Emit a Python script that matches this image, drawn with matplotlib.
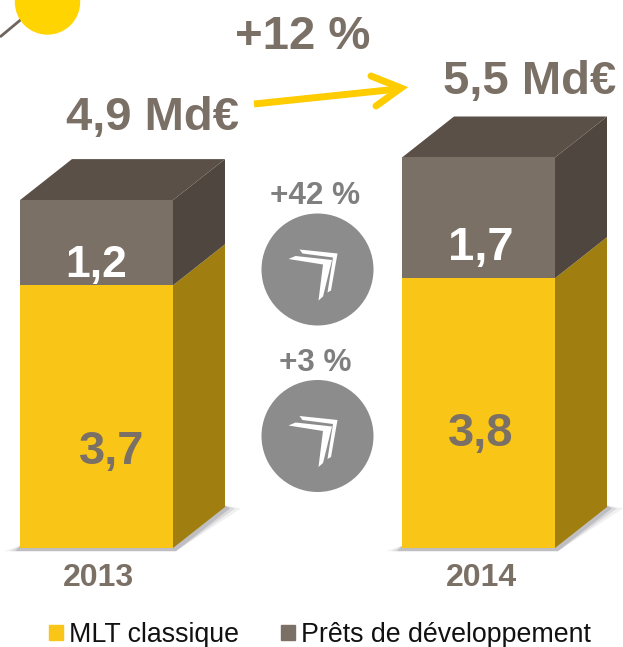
import matplotlib.pyplot as plt
from matplotlib.patches import Circle, Patch, Polygon

plt.rcParams['font.family'] = ['Liberation Sans', 'DejaVu Sans']

years = ["2013", "2014"]
mlt = [3.7, 3.8]
prets = [1.2, 1.7]
totals = ["4,9 Md€", "5,5 Md€"]
growth_total = "+12 %"
growth_labels = ["+42 %", "+3 %"]
series_names = ["MLT classique", "Prêts de développement"]

YELLOW = "#F9C617"
YELLOW_SIDE = "#A07F10"
GREY = "#7B7065"
GREY_TOP = "#5A5047"
GREY_SIDE = "#4E463F"
W, H = 623, 647
BASE = 548      # pixel row of value 0
SCALE = 71.0    # pixels per Md€
DX, DY = 52, 41 # depth of the fake 3d

fig = plt.figure(figsize=(W / 100, H / 100), dpi=100)
# ax is in pixels, ax_v has the same x but y in Md€
ax_v = fig.add_axes([0, 0, 1, 1], zorder=0)
ax_v.set_xlim(0, W)
ax_v.set_ylim((BASE - H) / SCALE, BASE / SCALE)
ax_v.axis("off")
ax = fig.add_axes([0, 0, 1, 1], zorder=1)
ax.set_xlim(0, W)
ax.set_ylim(H, 0)
ax.axis("off")

bar_left = [20, 402]
bar_w = 153
dy = DY / SCALE

# sun + line top left
ax.plot([0, 24], [37, 17], color="#6F655C", lw=2, solid_capstyle="butt", zorder=1)
ax.add_patch(Circle((47.5, 2), 32, color="#FFD400", zorder=2))

for i in range(2):
    x0 = bar_left[i]
    x1 = x0 + bar_w
    top1 = mlt[i]
    top2 = mlt[i] + prets[i]
    # soft shadow under the box
    for grow, a in ((16, 0.10), (10, 0.16), (5, 0.25)):
        ax_v.add_patch(Polygon([(x0 - grow, -0.045), (x1 + 3, -0.045), (x1 + DX + grow, dy - 0.02),
                                (x1 + DX, dy + 0.02), (x1, 0.03), (x0, 0.03)],
                               color="#6E6E78", alpha=a, lw=0, zorder=1))
    ax_v.bar(x0, top1, width=bar_w, align="edge", color=YELLOW, zorder=3)
    ax_v.bar(x0, prets[i], width=bar_w, bottom=top1, align="edge", color=GREY, zorder=3)
    ax_v.add_patch(Polygon([(x1, 0), (x1 + DX, dy), (x1 + DX, top1 + dy), (x1, top1)],
                           color=YELLOW_SIDE, lw=0, zorder=2))
    ax_v.add_patch(Polygon([(x1, top1), (x1 + DX, top1 + dy), (x1 + DX, top2 + dy), (x1, top2)],
                           color=GREY_SIDE, lw=0, zorder=2))
    ax_v.add_patch(Polygon([(x0, top2), (x0 + DX, top2 + dy), (x1 + DX, top2 + dy), (x1, top2)],
                           color=GREY_TOP, lw=0, zorder=2))

txt = dict(fontweight="bold", ha="center", va="center", zorder=5)
ax.text(98, 578, years[0], color=GREY, fontsize=23, **txt)
ax.text(481, 578, years[1], color=GREY, fontsize=23, **txt)
ax.text(152, 118, totals[0], color=GREY, fontsize=34, **txt)
ax.text(530, 82, totals[1], color=GREY, fontsize=34, **txt)
ax.text(303, 37, growth_total, color=GREY, fontsize=34, **txt)

fmt = lambda v: f"{v:.1f}".replace(".", ",")
ax.text(112, 452, fmt(mlt[0]), color=GREY, fontsize=34, **txt)
ax.text(481, 434, fmt(mlt[1]), color=GREY, fontsize=34, **txt)
ax.text(96, 265, fmt(prets[0]), color="white", fontsize=32, **txt)
ax.text(481, 248, fmt(prets[1]), color="white", fontsize=34, **txt)

# total growth arrow
ax.plot([254, 398], [104, 89], color="#FFCC00", lw=5, solid_capstyle="butt", zorder=4)
ax.plot([371, 401, 376], [76, 88, 106], color="#FFCC00", lw=5, solid_capstyle="round",
        solid_joinstyle="miter", zorder=4)

# growth badges
back = [(-18, -20), (20, -16), (13.5, 21), (10, 23), (15.5, -12), (-15, -16)]
front = [(-29, -10.5), (-22, -13.5), (14.5, -9.5), (5.5, 27), (1, 31), (5.5, -5)]
for cy, cy_txt, lab in zip((269.5, 436), (196, 363), growth_labels):
    ax.add_patch(Circle((317.5, cy), 56, color="#8C8C8C", lw=0, zorder=3))
    for shape in (back, front):
        ax.add_patch(Polygon([(317.5 + px, cy + py) for px, py in shape], color="white", lw=0, zorder=4))
    ax.text(315, cy_txt, lab, color="#7F7F7F", fontsize=22.7, **txt)

handles = [Patch(color=YELLOW), Patch(color=GREY)]
leg = ax.legend(handles, series_names, ncol=2, frameon=False, loc="center left",
                bbox_to_anchor=(49 / W, 1 - 635 / H), borderaxespad=0, borderpad=0,
                fontsize=19.3, handlelength=0.52, handleheight=0.52, handletextpad=0.22,
                columnspacing=1.58, labelcolor="#111111")

fig.savefig("out.png", dpi=100)
